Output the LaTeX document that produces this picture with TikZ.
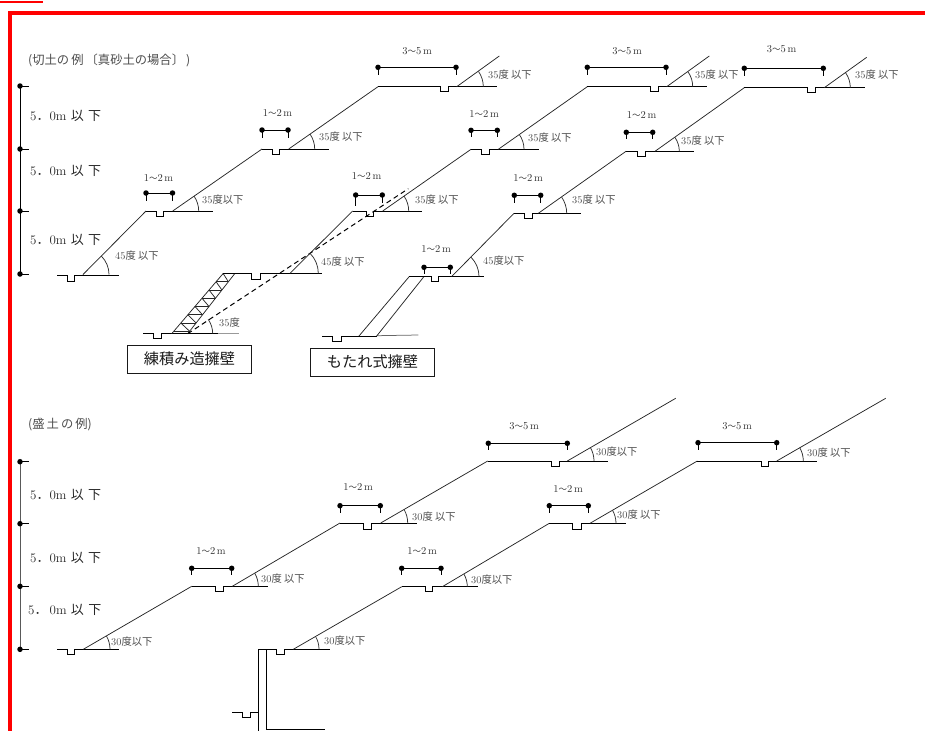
\documentclass[tikz,border=0pt]{standalone}
\usepackage{fontspec}
\newfontfamily\jp{Noto Sans CJK JP}
\tikzset{
  benchline/.style={line width=1pt,line join=miter},
  slopeline/.style={line width=0.75pt,black!85},
  arcline/.style={line width=0.75pt,black!80},
  scaleline/.style={line width=1pt},
  spanline/.style={line width=1pt},
  spandot/.style={circle,fill=black,inner sep=0pt,minimum size=5.5pt},
  spanlabel/.style={font=\fontsize{10.5}{12}\selectfont,black!80,inner sep=0pt},
  anglelabel/.style={font=\fontsize{10.3}{12}\selectfont,black!70,inner sep=0pt,anchor=west},
  heightlabel/.style={font=\fontsize{13}{15}\selectfont,black!85,inner sep=0pt,anchor=west},
  titlelabel/.style={font=\fontsize{12.3}{14}\selectfont,black!70,inner sep=0pt,anchor=west},
  wallbox/.style={draw,line width=0.9pt,minimum width=124pt,minimum height=28pt,inner sep=0pt,font=\fontsize{15.2}{17}\selectfont,black!90},
  redline/.style={red,line width=4pt}
}
% one terrace: start, level, ditch left, ditch right, end, ditch depth
\newcommand{\bench}[6]{\draw[benchline] (#1,#2) -- (#3,#2) -- (#3,#2+#6) -- (#4,#2+#6) -- (#4,#2) -- (#5,#2);}
\newcommand{\anglearc}[4]{\draw[arcline] (#1+#3,#2) arc[start angle=0,end angle=-#4,radius=#3];}
\newcommand{\spanbar}[5]{
  \node[spandot] (#1a) at (#2,#4) {};
  \node[spandot] (#1b) at (#3,#4) {};
  \draw[spanline] (#1a.center) -- (#1b.center);
  \draw[spanline] (#1a.center) -- ++(0,#5);
  \draw[spanline] (#1b.center) -- ++(0,#5);
}
\newcommand{\oneTwo}{1{\jp\fontsize{8.5}{10}\selectfont ～}2\,m}
\newcommand{\threeFive}{3{\jp\fontsize{8.5}{10}\selectfont ～}5\,m}
\begin{document}
\begin{tikzpicture}[x=1pt,y=-1pt]
\useasboundingbox (0,0) rectangle (925,731);
% frame
\draw[red,line width=1.7pt] (0,1.8) -- (43,1.8);
\draw[redline] (925,12.7) -- (10,12.7) -- (10,731);
% cut titles and scale
\node[titlelabel] (cuttitle) at (28,60) {\jp (切土の\,例\,〔真砂土の場合〕\,)};
\draw[scaleline] (20,86) -- (20,274);
\foreach \y/\n in {86/a,149/b,211/c,274/d} {
  \node[spandot] (cs\n) at (20,\y) {};
  \draw[scaleline] (cs\n.center) -- ++(9,0);
}
\node[heightlabel] (ch1) at (30,116) {5{\jp ．}0m {\jp 以\,\,下}};
\node[heightlabel] (ch2) at (30,171) {5{\jp ．}0m {\jp 以\,\,下}};
\node[heightlabel] (ch3) at (30,240) {5{\jp ．}0m {\jp 以\,\,下}};
% cut, left
\bench{57}{275}{67.3}{74.7}{119}{6.5}
\draw[slopeline] (83,274.5) -- (146,211);
\anglearc{83}{274.5}{26}{45}
\node[anglelabel] (ca1) at (115,256) {45{\jp 度 以下}};
\bench{146}{211}{156}{163.7}{212.7}{5.7}
\draw[slopeline] (172.7,211) -- (262,149);
\anglearc{172.7}{211}{26}{35}
\node[anglelabel] (ca2) at (202,200) {35{\jp 度以下}};
\spanbar{cd1}{146}{172.5}{193}{7.5}
\node[spanlabel] (cl1) at (158.5,177.5) {\oneTwo};
\bench{262}{149}{272}{279.5}{329}{5.5}
\draw[slopeline] (288.7,149) -- (378,86.7);
\anglearc{288.7}{149}{26}{35}
\node[anglelabel] (ca3) at (319,137) {35{\jp 度 以下}};
\spanbar{cd2}{262}{288}{130}{7.5}
\node[spanlabel] (cl2) at (277.5,113.5) {\oneTwo};
\bench{378}{86.7}{440}{448.7}{496.7}{5}
\draw[slopeline] (456.7,86.7) -- (499.3,56);
\anglearc{456.7}{86.7}{26.6}{35}
\node[anglelabel] (ca4) at (488,75) {35{\jp 度 以下}};
\spanbar{cd3}{378}{456}{67.3}{7.5}
\node[spanlabel] (cl3) at (417,51.5) {\threeFive};
% masonry wall
\bench{143.3}{333.7}{153.3}{161.7}{218}{4.7}
\draw[benchline,black!40] (218,333.7) -- (239.3,333.7);
\draw[slopeline] (171.7,333.7) -- (223.3,273.3);
\draw[slopeline] (187.7,333.7) -- (235,273.3);
\foreach \i in {0,...,7} {
  \pgfmathsetmacro{\ya}{273.5+8.25*\i}
  \pgfmathsetmacro{\yb}{273.5+8.25*(\i+1)}
  \pgfmathsetmacro{\la}{223.3-0.854*(\ya-273.3)}
  \pgfmathsetmacro{\ra}{235-0.783*(\ya-273.3)}
  \pgfmathsetmacro{\rb}{235-0.783*(\yb-273.3)}
  \draw[slopeline] (\la,\ya) -- (\ra,\ya);
  \ifnum\i<7 \draw[slopeline] (\la,\ya) -- (\rb,\yb); \fi
}
\draw[benchline,dashed,dash pattern=on 5pt off 3.5pt] (187.7,333.7) -- (408.3,188.7);
\anglearc{187.7}{333.7}{25}{35}
\node[anglelabel] (cw1) at (219,322.7) {35{\jp 度}};
\node[wallbox] (wall1) at (189.5,359) {\jp 練積み造擁壁};
% cut, middle
\bench{223.3}{273.3}{251.7}{260.3}{321.7}{6}
\draw[slopeline] (290,273.3) -- (352.7,211);
\anglearc{290}{273.3}{28.3}{45}
\node[anglelabel] (cb1) at (321,262) {45{\jp 度 以下}};
\bench{352.7}{211}{366}{373.3}{421.7}{5}
\draw[slopeline] (382.7,211) -- (471,149.3);
\anglearc{382.7}{211}{26}{35}
\node[anglelabel] (cb2) at (415,200) {35{\jp 度 以下}};
\spanbar{ce1}{355.7}{382.3}{195}{8}
\draw[spanline] (355.7,203) -- (355.7,205.7);
\node[spanlabel] (cm1) at (366.7,176) {\oneTwo};
\bench{471}{149.3}{481.3}{489.7}{538.7}{5}
\draw[slopeline] (498.3,149.3) -- (587.3,86.7);
\anglearc{498.3}{149.3}{25.7}{35}
\node[anglelabel] (cb3) at (528,138) {35{\jp 度 以下}};
\spanbar{ce2}{471}{497.3}{130.3}{7}
\node[spanlabel] (cm2) at (484,114) {\oneTwo};
\bench{587.3}{86.7}{650}{658.7}{707}{5}
\draw[slopeline] (666.7,86.7) -- (709.3,56);
\anglearc{666.7}{86.7}{26}{35}
\node[anglelabel] (cb4) at (695,75) {35{\jp 度 以下}};
\spanbar{ce3}{587.3}{666}{67.3}{7.5}
\node[spanlabel] (cm3) at (627,51.5) {\threeFive};
% leaning wall
\bench{322.3}{336}{332.3}{341.7}{376.7}{5.3}
\draw[slopeline,black!60] (376.7,335.7) -- (418.3,335);
\draw[slopeline] (359,336) -- (409.3,276.5);
\draw[slopeline] (376.7,336) -- (424,276.5);
\node[wallbox] (wall2) at (372.5,362) {\jp もたれ式擁壁};
% cut, right
\bench{409.3}{276.5}{431.7}{438.3}{484}{4.7}
\draw[slopeline] (451.7,276.5) -- (514,213.3);
\anglearc{451.7}{276.5}{27.3}{45}
\node[anglelabel] (cc1) at (483,260.7) {45{\jp 度以下}};
\spanbar{cf1}{424}{450.3}{267.3}{7}
\node[spanlabel] (cn1) at (436,248.5) {\oneTwo};
\bench{514}{213.3}{524}{532.7}{580.7}{5}
\draw[slopeline] (538.3,213.3) -- (626,151.3);
\anglearc{538.3}{213.3}{28.4}{35}
\node[anglelabel] (cc2) at (572,200) {35{\jp 度 以下}};
\spanbar{cf2}{514.3}{540.7}{195.3}{7.3}
\node[spanlabel] (cn2) at (528,178) {\oneTwo};
\bench{626}{151.3}{637}{645.7}{694}{5.4}
\draw[slopeline] (655,151.3) -- (744.3,87.7);
\anglearc{655}{151.3}{24.3}{35}
\node[anglelabel] (cc3) at (681,141) {35{\jp 度 以下}};
\spanbar{cf3}{626.3}{652.7}{132.3}{6.7}
\node[spanlabel] (cn3) at (641.5,114.7) {\oneTwo};
\bench{744.3}{87.7}{807.7}{815.7}{865}{5}
\draw[slopeline] (824.3,87.7) -- (866.7,57.3);
\anglearc{824.3}{87.7}{26}{35}
\node[anglelabel] (cc4) at (855,75) {35{\jp 度 以下}};
\spanbar{cf4}{744.3}{823.3}{68.3}{7.7}
\node[spanlabel] (cn4) at (781.5,49) {\threeFive};
% fill titles and scale
\node[titlelabel] (filltitle) at (28,425) {\jp (盛\,土\,の\,例)};
\draw[scaleline,black!65] (20,461.7) -- (20,649.3);
\foreach \y/\n in {461.7/a,523.7/b,586.3/c,649.3/d} {
  \node[spandot] (fs\n) at (20,\y) {};
  \draw[scaleline] (fs\n.center) -- ++(9,0);
}
\node[heightlabel] (fh1) at (30,495) {5{\jp ．}0m {\jp 以\,\,下}};
\node[heightlabel] (fh2) at (30,557.7) {5{\jp ．}0m {\jp 以\,\,下}};
\node[heightlabel] (fh3) at (28,610) {5{\jp ．}\,0m {\jp 以\,\,下}};
% fill, left
\bench{57.3}{649.3}{67.3}{74.7}{119.3}{5}
\draw[slopeline] (83.3,649.3) -- (191.7,586.3);
\anglearc{83.3}{649.3}{26.7}{30}
\node[anglelabel] (fa1) at (111,641.7) {30{\jp 度以下}};
\bench{191.7}{586.3}{215}{223.3}{267.7}{5.4}
\draw[slopeline] (232.3,586.3) -- (340,523);
\anglearc{232.3}{586.3}{26}{30}
\node[anglelabel] (fa2) at (261,578.3) {30{\jp 度 以下}};
\spanbar{fd1}{191.7}{231.7}{568.3}{7}
\node[spanlabel] (fl1) at (211,551) {\oneTwo};
\bench{340}{523}{363.3}{371.7}{416.7}{6.3}
\draw[slopeline] (380.7,523) -- (487.7,461);
\anglearc{380.7}{523}{27}{30}
\node[anglelabel] (fa3) at (412,516.7) {30{\jp 度 以下}};
\spanbar{fd2}{340}{380.3}{505.7}{7}
\node[spanlabel] (fl2) at (358,487) {\oneTwo};
\bench{487.7}{461}{551.7}{559}{608}{5.7}
\draw[slopeline] (567.3,461) -- (675.7,398.3);
\anglearc{567.3}{461}{26.7}{30}
\node[anglelabel] (fa4) at (596,451.7) {30{\jp 度以下}};
\spanbar{fd3}{488.3}{567.3}{443.3}{6.7}
\node[spanlabel] (fl3) at (524,426) {\threeFive};
% vertical wall
\bench{258.3}{649.3}{276.7}{284.3}{330}{5}
\draw[benchline] (258.3,649.3) -- (258.3,731);
\draw[benchline] (266,649.3) -- (266,729.3) -- (325,729.3);
\bench{232}{712.3}{242.3}{250.7}{258.3}{5}
% fill, right
\draw[slopeline] (293.3,649.3) -- (401.7,586.7);
\anglearc{293.3}{649.3}{25.7}{30}
\node[anglelabel] (fb1) at (324,641) {30{\jp 度以下}};
\bench{401.7}{586.7}{425.7}{432.7}{477.7}{5}
\draw[slopeline] (442.3,586.7) -- (549.3,523.3);
\anglearc{442.3}{586.7}{25}{30}
\node[anglelabel] (fb2) at (471,579.3) {30{\jp 度以下}};
\spanbar{fe1}{401.7}{441}{568.3}{6.7}
\node[spanlabel] (fm1) at (422,550.7) {\oneTwo};
\bench{549.3}{523.3}{572.3}{581.7}{626}{6}
\draw[slopeline] (590,523.3) -- (697.3,461);
\anglearc{590}{523.3}{26}{30}
\node[anglelabel] (fb3) at (617,515) {30{\jp 度 以下}};
\spanbar{fe2}{549.3}{588.3}{505.7}{7.3}
\node[spanlabel] (fm2) at (568,489) {\oneTwo};
\bench{697.3}{461}{761}{768.7}{816.7}{5.7}
\draw[slopeline] (776.7,461) -- (885.7,398.3);
\anglearc{776.7}{461}{26.6}{30}
\node[anglelabel] (fb4) at (807,452.7) {30{\jp 度 以下}};
\spanbar{fe3}{698}{776.7}{442.7}{7.3}
\node[spanlabel] (fm3) at (737,426) {\threeFive};
\end{tikzpicture}
\end{document}
